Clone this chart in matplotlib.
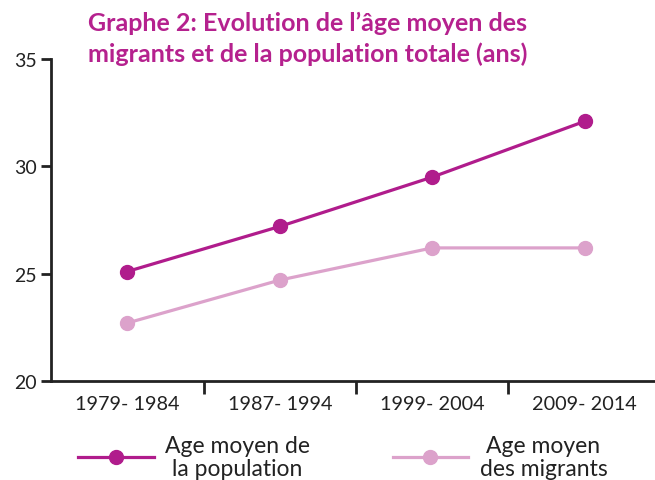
import numpy as np
import matplotlib.pyplot as plt
from matplotlib.ticker import FixedLocator

# data
periods = ['1979- 1984', '1987- 1994', '1999- 2004', '2009- 2014']
age_population = [25.1, 27.2, 29.5, 32.1]
age_migrants = [22.7, 24.7, 26.2, 26.2]
yticks = [20, 25, 30, 35]

dark = '#B01C8C'
light = '#DCA2CB'
plt.rcParams['font.family'] = ['Lato', 'DejaVu Sans']

fig = plt.figure(figsize=(6.55, 4.81), dpi=100)
ax = fig.add_axes([0.078, 0.206, 0.931, 0.669])

x = np.arange(len(periods))
ax.plot(x, age_population, color=dark, lw=2.3, marker='o', ms=10,
        label='Age moyen de\nla population')
ax.plot(x, age_migrants, color=light, lw=2.3, marker='o', ms=10,
        label='Age moyen\ndes migrants')

ax.set_xlim(-0.5, 3.5)
ax.set_ylim(20, 35)
ax.set_yticks(yticks)
ax.set_xticks(x)
ax.set_xticklabels(periods)
ax.xaxis.set_minor_locator(FixedLocator([0.5, 1.5, 2.5]))
ax.tick_params(axis='x', which='major', length=0, labelsize=14.3, pad=10, colors='#222222')
ax.tick_params(axis='x', which='minor', length=9, width=2, color='#222222')
ax.tick_params(axis='y', length=7, width=2, labelsize=14, color='#222222', labelcolor='#222222', pad=3)

for s in ['top', 'right']:
    ax.spines[s].set_visible(False)
for s in ['left', 'bottom']:
    ax.spines[s].set_linewidth(2)
    ax.spines[s].set_color('#222222')
ax.spines['left'].set_zorder(0)

fig.text(0.134, 0.975, "Graphe 2: Evolution de l\u2019âge moyen des\nmigrants et de la population totale (ans)",
         color='#B5218E', fontsize=18, fontweight='bold', va='top', ha='left', linespacing=1.37)

leg = ax.legend(loc='upper left', bbox_to_anchor=(0.044, -0.168), ncol=2, frameon=False,
                fontsize=16.5, handlelength=3.3, columnspacing=3.6, handletextpad=0.5,
                borderaxespad=0, borderpad=0, labelspacing=0)
for t in leg.get_texts():
    t.set_multialignment('center')
    t.set_color('#222222')
    t.set_linespacing(1.12)

fig.savefig('out.png', dpi=100)
